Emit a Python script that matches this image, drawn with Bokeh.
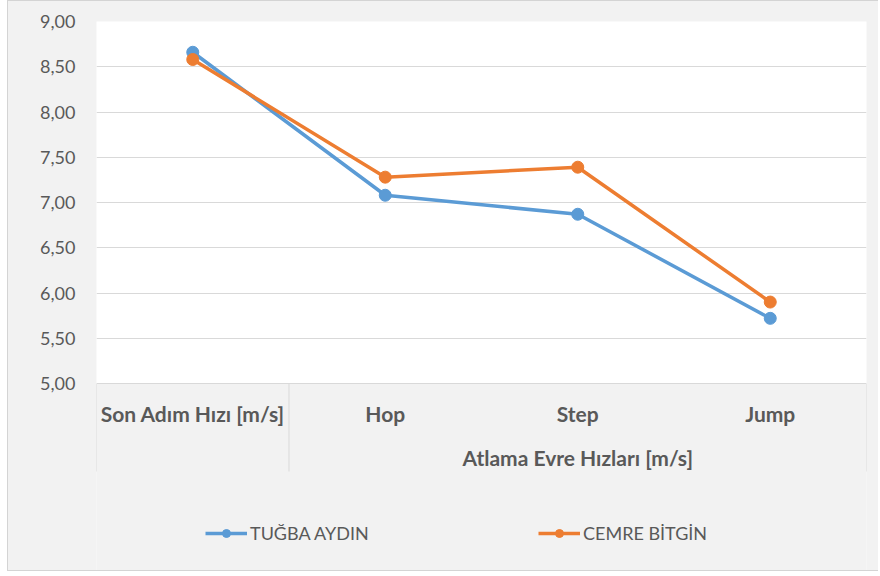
import numpy as np
from bokeh.plotting import figure
from bokeh.models import Range1d, FixedTicker, Legend, LegendItem, ColumnDataSource
from bokeh.core.properties import value
from bokeh.embed import file_html
from bokeh.resources import INLINE

# ---- data ----
categories = ["Son Adım Hızı [m/s]", "Hop", "Step", "Jump"]
group_label = "Atlama Evre Hızları [m/s]"
group_members = ["Hop", "Step", "Jump"]
series_names = ["TUĞBA AYDIN", "CEMRE BİTGİN"]
tugba = [8.66, 7.08, 6.87, 5.72]
cemre = [8.58, 7.28, 7.39, 5.90]
y_ticks = [5.0, 5.5, 6.0, 6.5, 7.0, 7.5, 8.0, 8.5, 9.0]
y_tick_labels = ["5,00", "5,50", "6,00", "6,50", "7,00", "7,50", "8,00", "8,50", "9,00"]

# ---- style ----
BLUE = "#5B9BD5"
ORANGE = "#ED7D31"
GRID = "#D9D9D9"
BG = "#F2F2F2"
TXT = "#595959"
FONT = "Lato"

W, H = 871, 571
B_LEFT, B_RIGHT, B_TOP, B_BOTTOM = 88, 13, 20, 0
frame_h = H - B_TOP - B_BOTTOM
PX_PER_UNIT = 90.5
y_top = max(y_ticks)
y_axis_min = min(y_ticks)
y_start = y_top - frame_h / PX_PER_UNIT

n = len(categories)
x_centers = np.arange(n) + 0.5

p = figure(width=W, height=H,
           x_range=Range1d(0, n), y_range=Range1d(y_start, y_top),
           output_backend="svg", toolbar_location=None,
           x_axis_location=None,
           min_border_left=B_LEFT, min_border_right=B_RIGHT,
           min_border_top=B_TOP, min_border_bottom=B_BOTTOM)
p.styles = {"margin-left": "7px",
            "background-color": BG,
            "border-left": "1px solid #D4D4D4",
            "border-top": "1px solid #D4D4D4",
            "border-bottom": "1px solid #D4D4D4"}
p.background_fill_color = "white"
p.border_fill_color = BG
p.outline_line_color = None

# grey area beneath plot area (category axis zone); overshoots the frame so
# no anti-aliased white seam shows at the frame edges
pad = 0.05
p.quad(left=-pad, right=n + pad, bottom=y_start - 1, top=y_axis_min,
       fill_color=BG, line_color=None, level="image")

# grid
p.xgrid.visible = False
p.ygrid.ticker = FixedTicker(ticks=y_ticks)
p.ygrid.grid_line_color = GRID
p.ygrid.grid_line_width = 1

# y axis
ax = p.yaxis[0]
ax.ticker = FixedTicker(ticks=y_ticks)
ax.major_label_overrides = dict(zip(y_ticks, y_tick_labels))
ax.axis_line_color = None
ax.major_tick_line_color = None
ax.minor_tick_line_color = None
ax.major_tick_in = 0
ax.major_tick_out = 0
ax.major_label_standoff = 21
ax.major_label_text_font = FONT
ax.major_label_text_font_size = "18px"
ax.major_label_text_color = TXT

# category separators
first_grp = categories.index(group_members[0])
sep_x = [0, first_grp, n]
y_sep_bottom = y_axis_min - 88 / PX_PER_UNIT
p.segment(x0=sep_x, y0=[y_axis_min] * 3, x1=sep_x, y1=[y_sep_bottom] * 3,
          line_color=GRID, line_width=1)

# category labels
y_cat = y_axis_min - 30 / PX_PER_UNIT
y_grp = y_axis_min - 74 / PX_PER_UNIT
cat_src = ColumnDataSource(dict(x=x_centers, y=[y_cat] * n, t=categories))
p.text(x="x", y="y", text="t", source=cat_src, text_align="center",
       text_baseline="middle", text_font=value(FONT), text_font_style="bold",
       text_font_size="21px", text_color=TXT)
grp_x = float(np.mean([x_centers[categories.index(g)] for g in group_members]))
p.text(x=[grp_x], y=[y_grp], text=[group_label], text_align="center",
       text_baseline="middle", text_font=value(FONT), text_font_style="bold",
       text_font_size="21px", text_color=TXT)

# series
l1 = p.line(x_centers, tugba, line_color=BLUE, line_width=3.5)
s1 = p.scatter(x_centers, tugba, size=12, fill_color=BLUE, line_color=BLUE)
l2 = p.line(x_centers, cemre, line_color=ORANGE, line_width=3.5)
s2 = p.scatter(x_centers, cemre, size=12, fill_color=ORANGE, line_color=ORANGE)

legend = Legend(items=[LegendItem(label=series_names[0], renderers=[l1, s1]),
                       LegendItem(label=series_names[1], renderers=[l2, s2])],
                orientation="horizontal", location=(109, 28),
                glyph_width=42, glyph_height=20, label_height=20,
                label_standoff=3, label_width=288, spacing=0,
                padding=0, margin=0,
                background_fill_alpha=0, border_line_color=None,
                label_text_font=FONT, label_text_font_size="18px",
                label_text_color=TXT)
p.add_layout(legend)

open("out.html", "w").write(file_html(p, INLINE))
